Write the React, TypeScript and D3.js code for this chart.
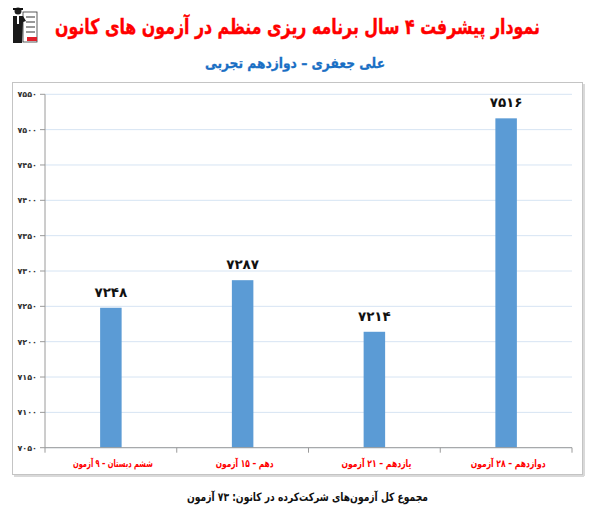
import React from "react";
import * as d3 from "d3";

const categories = [
  "ششم دبستان – ۹ آزمون",
  "دهم – ۱۵ آزمون",
  "یازدهم – ۲۱ آزمون",
  "دوازدهم – ۲۸ آزمون",
];
const values = [7248, 7287, 7214, 7516];
const yDomain = [7050, 7550];
const yStep = 50;
const titleText = "نمودار پیشرفت ۴ سال برنامه ریزی منظم در آزمون های کانون";
const subtitleText = "علی جعفری – دوازدهم تجربی";
const footerText = "مجموع کل آزمون‌های شرکت‌کرده در کانون:  ۷۳ آزمون";

const fa = (n: number | string) =>
  String(n).replace(/\d/g, (d) => "۰۱۲۳۴۵۶۷۸۹"[+d]);

const FONT = "'DejaVu Sans', sans-serif";

export default function App() {
  const W = 595, H = 512;
  const left = 45, right = 572, top = 94.3, bottom = 447.7;
  const x = d3.scaleBand<string>().domain(categories).range([left, right]).paddingInner(0).paddingOuter(0);
  const y = d3.scaleLinear().domain(yDomain).range([bottom, top]);
  const yTicks = d3.range(yDomain[0], yDomain[1] + 1, yStep);
  const barW = 21.5;
  const bw = x.bandwidth();
  const labelWidths = [80, 58, 70, 75];

  return (
    <svg width={W} height={H} style={{ position: "absolute", left: 0, top: 0, background: "#fff" }}>
      {/* logo */}
      <g transform="translate(10,7)">
        <rect x={13} y={5} width={14} height={30} fill="#fff" stroke="#333" strokeWidth={0.8} />
        <line x1={16} y1={10} x2={25} y2={10} stroke="#555" strokeWidth={1.2} />
        <line x1={16} y1={15} x2={25} y2={15} stroke="#555" strokeWidth={1.2} />
        <line x1={16} y1={20} x2={25} y2={20} stroke="#555" strokeWidth={1.2} />
        <line x1={16} y1={25} x2={25} y2={25} stroke="#555" strokeWidth={1.2} />
        <rect x={17} y={30} width={10} height={4} fill="#e0202a" />
        <circle cx={8} cy={4} r={3.5} fill="#222" />
        <rect x={3} y={1} width={10} height={2} fill="#111" />
        <path d="M3,9 L13,9 L16,14 L13,15 L12,36 L3,36 Z" fill="#1a1a1a" />
        <rect x={7} y={9} width={2} height={8} fill="#fff" />
      </g>

      {/* title */}
      <text x={540} y={34} textAnchor="start" direction="rtl" fill="#ff0000" stroke="#ff0000" strokeWidth={0.4}
        fontFamily={FONT} fontWeight="bold" fontSize={21}
        textLength={485} lengthAdjust="spacingAndGlyphs">
        {titleText}
      </text>
      <text x={385} y={68} textAnchor="start" direction="rtl" fill="#1a6fc4" stroke="#1a6fc4" strokeWidth={0.3}
        fontFamily={FONT} fontWeight="bold" fontSize={14}
        textLength={180} lengthAdjust="spacingAndGlyphs">
        {subtitleText}
      </text>

      {/* frame */}
      <rect x={12.5} y={82.5} width={570} height={392} fill="#fff" stroke="#c4c4c4" strokeWidth={1} />
      <line x1={584} y1={84} x2={584} y2={476} stroke="#d9d9d9" strokeWidth={2} />
      <line x1={14} y1={476} x2={584} y2={476} stroke="#d9d9d9" strokeWidth={2} />

      {/* gridlines */}
      {yTicks.map((t) => (
        <line key={"g" + t} x1={left} x2={right} y1={y(t)} y2={y(t)} stroke="#d6e4f3" strokeWidth={1} />
      ))}

      {/* bars */}
      {categories.map((c, i) => (
        <rect
          key={c}
          x={(x(c) as number) + bw / 2 - barW / 2}
          y={y(values[i])}
          width={barW}
          height={bottom - y(values[i])}
          fill="#5b9bd5"
        />
      ))}

      {/* value labels */}
      {categories.map((c, i) => (
        <text
          key={"v" + c}
          x={(x(c) as number) + bw / 2}
          y={y(values[i]) - 11}
          textAnchor="middle"
          fill="#111"
          fontFamily={FONT}
          fontWeight="bold"
          fontSize={13.5}
        >
          {fa(values[i])}
        </text>
      ))}

      {/* y axis */}
      <line x1={left} x2={left} y1={top} y2={bottom} stroke="#9a9a9a" strokeWidth={1} />
      {yTicks.map((t) => (
        <g key={"t" + t}>
          <line x1={left - 5} x2={left} y1={y(t)} y2={y(t)} stroke="#9a9a9a" strokeWidth={1} />
          <text x={37} y={y(t) + 3} textAnchor="end" fill="#333" fontFamily={FONT} fontWeight="bold" fontSize={8}>
            {fa(t)}
          </text>
        </g>
      ))}

      {/* x axis */}
      <line x1={left} x2={right} y1={bottom} y2={bottom} stroke="#9a9a9a" strokeWidth={1} />
      {[...categories.map((c) => x(c) as number), right].map((px, i) => (
        <line key={"xt" + i} x1={px} x2={px} y1={bottom} y2={bottom + 5} stroke="#9a9a9a" strokeWidth={1} />
      ))}
      {categories.map((c, i) => (
        <text
          key={"xl" + c}
          x={(x(c) as number) + bw / 2 + 2 + labelWidths[i] / 2}
          y={467}
          textAnchor="start"
          direction="rtl"
          fill="#ff0000"
          fontFamily={FONT}
          fontWeight="bold"
          fontSize={10.5}
          textLength={labelWidths[i]}
          lengthAdjust="spacingAndGlyphs"
        >
          {c}
        </text>
      ))}

      {/* footer */}
      <text x={428} y={501} textAnchor="start" direction="rtl" fill="#111" fontFamily={FONT} fontWeight="bold" fontSize={11.5}
        textLength={241} lengthAdjust="spacingAndGlyphs">
        {footerText}
      </text>
    </svg>
  );
}
